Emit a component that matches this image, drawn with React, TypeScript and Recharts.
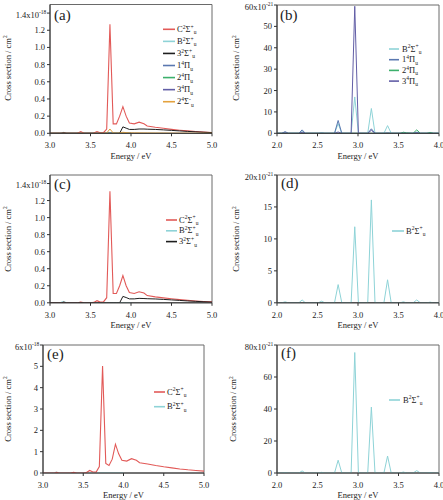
import React from 'react';
import { LineChart, Line, XAxis, YAxis, ReferenceArea } from 'recharts';

const FONT = "'Liberation Serif', 'Times New Roman', serif";
const INK = '#222';
const AXIS = '#333';
const FRAME = '#6a6a6a';

// ---------- energy grids (eV) ----------
const energyHigh = [3.0, 3.1, 3.14, 3.17, 3.2, 3.34, 3.38, 3.42, 3.5, 3.54, 3.58, 3.62, 3.66, 3.7, 3.74, 3.78, 3.82, 3.86, 3.9, 3.94, 3.98, 4.04, 4.1, 4.16, 4.2, 4.3, 4.4, 4.5, 4.6, 4.7, 4.8, 4.9, 5.0];
const energyLow = [2.0, 2.06, 2.1, 2.14, 2.27, 2.31, 2.35, 2.51, 2.55, 2.59, 2.71, 2.755, 2.8, 2.915, 2.96, 3.005, 3.12, 3.165, 3.21, 3.32, 3.365, 3.41, 3.52, 3.56, 3.6, 3.68, 3.725, 3.77, 3.85, 3.89, 3.93, 4.0];

// ---------- panel (a): x10^-18 cm^2 ----------
const cSigmaA = [0, 0, 0, 0.004, 0, 0, 0.02, 0, 0, 0.004, 0.02, 0.006, 0.008, 0.05, 1.27, 0.11, 0.11, 0.2, 0.31, 0.2, 0.12, 0.11, 0.13, 0.11, 0.085, 0.07, 0.058, 0.046, 0.036, 0.028, 0.021, 0.015, 0.01];
const s3SigmaA = [0, 0, 0, 0.005, 0, 0, 0, 0, 0, 0, 0, 0, 0, 0, 0, 0, 0, 0, 0.075, 0.06, 0.045, 0.045, 0.05, 0.05, 0.048, 0.045, 0.04, 0.034, 0.028, 0.022, 0.017, 0.012, 0.008];
const s2SigmaMinusA = [0, 0, 0, 0, 0, 0, 0, 0, 0, 0, 0, 0, 0, 0.003, 0.05, 0.004, 0.003, 0.004, 0.012, 0.008, 0.006, 0.005, 0.005, 0.004, 0.004, 0.003, 0.003, 0.002, 0.002, 0.002, 0.001, 0.001, 0.001];

// ---------- panel (b): x10^-21 cm^2 ----------
const bSigmaB = [0, 0, 0.3, 0, 0, 0.8, 0, 0, 0.2, 0, 0, 4.5, 0, 0, 17, 0, 0, 11.6, 0, 0, 3.6, 0, 0, 0.2, 0, 0, 0.6, 0, 0, 0.2, 0, 0];
const pi1B = [0, 0, 0.8, 0, 0, 1.6, 0, 0, 0.1, 0, 0, 6.0, 0, 0, 0, 0, 0, 2.1, 0, 0, 0.2, 0, 0, 0.1, 0, 0, 0.3, 0, 0, 0, 0, 0];
const pi2B = [0, 0, 0, 0, 0, 0, 0, 0, 0, 0, 0, 0, 0, 0, 0, 0, 0, 0, 0, 0, 0, 0, 0, 0.5, 0.2, 0, 1.6, 0, 0, 0.4, 0, 0];
const pi3B = [0, 0, 0.2, 0, 0, 0.5, 0, 0, 0, 0, 0, 0.6, 0, 0, 59.4, 0, 0, 1.4, 0, 0, 0, 0, 0, 0, 0, 0, 0.2, 0, 0, 0, 0, 0];

// ---------- panel (c): x10^-18 cm^2 ----------
const cSigmaC = [0, 0, 0, 0.006, 0, 0, 0.008, 0, 0, 0.005, 0.025, 0.008, 0.01, 0.06, 1.31, 0.11, 0.11, 0.2, 0.32, 0.2, 0.12, 0.11, 0.13, 0.115, 0.085, 0.07, 0.058, 0.047, 0.037, 0.029, 0.022, 0.016, 0.011];
const s3SigmaC = [0, 0, 0, 0.008, 0, 0, 0.004, 0, 0, 0, 0, 0, 0, 0, 0, 0, 0, 0, 0.075, 0.062, 0.046, 0.046, 0.052, 0.05, 0.048, 0.045, 0.04, 0.034, 0.028, 0.022, 0.017, 0.012, 0.008];

// ---------- panel (d): x10^-21 cm^2 ----------
const bSigmaD = [0, 0, 0.15, 0, 0, 0.45, 0, 0, 0.25, 0, 0, 2.85, 0, 0, 11.9, 0, 0, 16.1, 0, 0, 3.6, 0, 0, 0.15, 0, 0, 0.45, 0, 0, 0.1, 0, 0];

// ---------- panel (e): x10^-18 cm^2 ----------
const cSigmaE = [0, 0, 0, 0.03, 0, 0, 0.03, 0, 0, 0.02, 0.12, 0.05, 0.04, 0.3, 5.02, 0.45, 0.35, 0.65, 1.35, 0.9, 0.6, 0.56, 0.67, 0.6, 0.48, 0.42, 0.35, 0.29, 0.24, 0.19, 0.15, 0.12, 0.09];

// ---------- panel (f): x10^-21 cm^2 ----------
const bSigmaF = [0, 0, 0.2, 0, 0, 1.3, 0, 0, 0.4, 0, 0, 8.0, 0, 0, 75.3, 0, 0, 41.2, 0, 0, 10.6, 0, 0, 0.6, 0, 0, 1.5, 0, 0, 0.3, 0, 0];

// ---------- ticks ----------
const xTicksHigh = [3.0, 3.5, 4.0, 4.5, 5.0];
const xTicksLow = [2.0, 2.5, 3.0, 3.5, 4.0];
const yTicksA = [0, 0.2, 0.4, 0.6, 0.8, 1.0, 1.2, 1.4];
const yTicksB = [0, 10, 20, 30, 40, 50, 60];
const yTicksD = [0, 5, 10, 15, 20];
const yTicksE = [0, 1, 2, 3, 4, 5, 6];
const yTicksF = [0, 20, 40, 60, 80];

// ---------- state labels: [lead, sup, symbol, sup2, sub] ----------
const lblC = ['C', '2', 'Σ', '+', 'u'];
const lblB = ['B', '2', 'Σ', '+', 'u'];
const lbl3S = ['3', '2', 'Σ', '+', 'u'];
const lbl1P = ['1', '4', 'Π', '', 'u'];
const lbl2P = ['2', '4', 'Π', '', 'u'];
const lbl3P = ['3', '4', 'Π', '', 'u'];
const lbl2Sm = ['2', '4', 'Σ', '-', 'u'];

const COL = {
  C: '#e25a58',
  B: '#8ed3d7',
  S3: '#1e1e1e',
  P1: '#5a78b0',
  P2: '#3cb06c',
  P3: '#625ea6',
  Sm: '#e4a23e',
};

type Row = { E: number; v: number };
const rows = (E: number[], V: number[], scale = 1): Row[] => E.map((e, i) => ({ E: e, v: V[i] * scale }));

type Series = { id: string; color: string; data: Row[]; width?: number };

type PanelCfg = {
  left: number; top: number; w: number; h: number;
  pl: number; pt: number; pr: number; pb: number;
  xDomain: [number, number]; xTicks: number[];
  yDomain: [number, number]; yTicks: number[]; yDec: number;
  topBase: string; topExp: string;
  series: Series[];
};

const panels: PanelCfg[] = [
  {
    left: 0, top: 0, w: 222, h: 165, pl: 50, pt: 4.5, pr: 212, pb: 133.3,
    xDomain: [3, 5], xTicks: xTicksHigh, yDomain: [0, 1.5], yTicks: yTicksA, yDec: 1,
    topBase: '1.4x10', topExp: '-18',
    series: [
      { id: 'a-B', color: COL.B, data: rows(energyLow, bSigmaB, 1e-3) },
      { id: 'a-P1', color: COL.P1, data: rows(energyLow, pi1B, 1e-3) },
      { id: 'a-P2', color: COL.P2, data: rows(energyLow, pi2B, 1e-3) },
      { id: 'a-P3', color: COL.P3, data: rows(energyLow, pi3B, 1e-3) },
      { id: 'a-C', color: COL.C, data: rows(energyHigh, cSigmaA), width: 1.1 },
      { id: 'a-S3', color: COL.S3, data: rows(energyHigh, s3SigmaA) },
      { id: 'a-Sm', color: COL.Sm, data: rows(energyHigh, s2SigmaMinusA) },
    ],
  },
  {
    left: 222, top: 0, w: 221, h: 165, pl: 277, pt: 5, pr: 439, pb: 133.3,
    xDomain: [2, 4], xTicks: xTicksLow, yDomain: [0, 60], yTicks: yTicksB, yDec: 0,
    topBase: '60x10', topExp: '-21',
    series: [
      { id: 'b-B', color: COL.B, data: rows(energyLow, bSigmaB) },
      { id: 'b-P1', color: COL.P1, data: rows(energyLow, pi1B) },
      { id: 'b-P2', color: COL.P2, data: rows(energyLow, pi2B) },
      { id: 'b-P3', color: COL.P3, data: rows(energyLow, pi3B) },
    ],
  },
  {
    left: 0, top: 165, w: 222, h: 165, pl: 50, pt: 175, pr: 212, pb: 302.8,
    xDomain: [3, 5], xTicks: xTicksHigh, yDomain: [0, 1.5], yTicks: yTicksA, yDec: 1,
    topBase: '1.4x10', topExp: '-18',
    series: [
      { id: 'c-B', color: COL.B, data: rows(energyLow, bSigmaD, 1e-3) },
      { id: 'c-C', color: COL.C, data: rows(energyHigh, cSigmaC), width: 1.1 },
      { id: 'c-S3', color: COL.S3, data: rows(energyHigh, s3SigmaC) },
    ],
  },
  {
    left: 222, top: 165, w: 221, h: 165, pl: 277, pt: 175, pr: 439, pb: 302.8,
    xDomain: [2, 4], xTicks: xTicksLow, yDomain: [0, 20], yTicks: yTicksD, yDec: 0,
    topBase: '20x10', topExp: '-21',
    series: [{ id: 'd-B', color: COL.B, data: rows(energyLow, bSigmaD) }],
  },
  {
    left: 0, top: 330, w: 222, h: 170, pl: 43, pt: 345, pr: 204, pb: 473,
    xDomain: [3, 5], xTicks: xTicksHigh, yDomain: [0, 6], yTicks: yTicksE, yDec: 0,
    topBase: '6x10', topExp: '-18',
    series: [
      { id: 'e-B', color: COL.B, data: rows(energyLow, bSigmaF, 1e-3) },
      { id: 'e-C', color: COL.C, data: rows(energyHigh, cSigmaE), width: 1.1 },
    ],
  },
  {
    left: 222, top: 330, w: 221, h: 170, pl: 277, pt: 345, pr: 439, pb: 473,
    xDomain: [2, 4], xTicks: xTicksLow, yDomain: [0, 80], yTicks: yTicksF, yDec: 0,
    topBase: '80x10', topExp: '-21',
    series: [{ id: 'f-B', color: COL.B, data: rows(energyLow, bSigmaF) }],
  },
];

// overlay text layout (absolute page coords)
const overlays = [
  { letter: '(a)', lx: 54, ly: 20, yt: { x: 10.5, y: 68 }, xt: { x: 131, y: 158.5 },
    legend: { x1: 163, x2: 175, tx: 177, y0: 29.3, dy: 12.07, items: [[lblC, COL.C], [lblB, COL.B], [lbl3S, COL.S3], [lbl1P, COL.P1], [lbl2P, COL.P2], [lbl3P, COL.P3], [lbl2Sm, COL.Sm]] } },
  { letter: '(b)', lx: 280, ly: 20, yt: { x: 239, y: 68 }, xt: { x: 358, y: 158.5 },
    legend: { x1: 389, x2: 399, tx: 402, y0: 49, dy: 10.7, items: [[lblB, COL.B], [lbl1P, COL.P1], [lbl2P, COL.P2], [lbl3P, COL.P3]] } },
  { letter: '(c)', lx: 54, ly: 189, yt: { x: 10.5, y: 239 }, xt: { x: 131, y: 327.5 },
    legend: { x1: 166, x2: 177, tx: 179, y0: 220, dy: 10.8, items: [[lblC, COL.C], [lblB, COL.B], [lbl3S, COL.S3]] } },
  { letter: '(d)', lx: 281, ly: 187.5, yt: { x: 239, y: 239 }, xt: { x: 358, y: 327.5 },
    legend: { x1: 392, x2: 404, tx: 406, y0: 231, dy: 11, items: [[lblB, COL.B]] } },
  { letter: '(e)', lx: 47, ly: 359, yt: { x: 10.5, y: 409 }, xt: { x: 123.5, y: 497.5 },
    legend: { x1: 154, x2: 165, tx: 167, y0: 392, dy: 14.7, items: [[lblC, COL.C], [lblB, COL.B]] } },
  { letter: '(f)', lx: 281, ly: 357.5, yt: { x: 236, y: 409 }, xt: { x: 358, y: 497.5 },
    legend: { x1: 389, x2: 400, tx: 403, y0: 400, dy: 11, items: [[lblB, COL.B]] } },
];

function StateLabel({ x, y, parts }: { x: number; y: number; parts: string[] }) {
  const [a, s1, b, s2, sub] = parts;
  return (
    <text x={x} y={y} fontSize={8.5} fontFamily={FONT} fill={INK}>
      {a}
      <tspan dy={-3.4} fontSize={5.5}>{s1}</tspan>
      <tspan dy={3.4} fontSize={8.5}>{b}</tspan>
      {s2 ? <tspan dy={-3.4} fontSize={5.5}>{s2}</tspan> : null}
      <tspan dy={s2 ? 5.8 : 2.4} dx={s2 ? 0.3 : 0.2} fontSize={5.5}>{sub}</tspan>
    </text>
  );
}

function Panel({ p }: { p: PanelCfg }) {
  const mTop = p.pt - p.top;
  const mRight = p.left + p.w - p.pr;
  const yW = p.pl - p.left;
  const xH = p.top + p.h - p.pb;
  const topTick = p.yTicks[p.yTicks.length - 1];
  const xTick = (props: any) => {
    const { x, payload } = props;
    return (
      <text x={x} y={p.pb - p.top + 15} textAnchor="middle" fontSize={8.5} fontFamily={FONT} fill={INK}>
        {Number(payload.value).toFixed(1)}
      </text>
    );
  };
  const yTick = (props: any) => {
    const { y, payload } = props;
    const v = Number(payload.value);
    const x = yW - 5;
    if (Math.abs(v - topTick) < 1e-9) {
      return (
        <g>
          <text x={x - 6} y={y + 4.6} textAnchor="end" fontSize={8.5} fontFamily={FONT} fill={INK}>{p.topBase}</text>
          <text x={x - 6} y={y + 0.8} textAnchor="start" fontSize={5.5} fontFamily={FONT} fill={INK}>{p.topExp}</text>
        </g>
      );
    }
    return (
      <text x={x} y={y + 3} textAnchor="end" fontSize={8.5} fontFamily={FONT} fill={INK}>
        {v.toFixed(p.yDec)}
      </text>
    );
  };
  return (
    <div style={{ position: 'absolute', left: p.left, top: p.top, width: p.w, height: p.h }}>
      <LineChart width={p.w} height={p.h} margin={{ top: mTop, right: mRight, bottom: 0, left: 0 }}>
        <XAxis
          type="number"
          dataKey="E"
          domain={p.xDomain}
          ticks={p.xTicks}
          allowDataOverflow
          height={xH}
          tickSize={3}
          stroke={AXIS}
          tickLine={{ stroke: AXIS }}
          tick={xTick}
          interval={0}
        />
        <YAxis
          type="number"
          domain={p.yDomain}
          ticks={p.yTicks}
          allowDataOverflow
          width={yW}
          tickSize={3}
          stroke={AXIS}
          tickLine={{ stroke: AXIS }}
          tick={yTick}
          interval={0}
        />
        <ReferenceArea
          x1={p.xDomain[0]}
          x2={p.xDomain[1]}
          y1={p.yDomain[0]}
          y2={p.yDomain[1]}
          fill="none"
          fillOpacity={0}
          stroke={FRAME}
          strokeWidth={1}
          ifOverflow="visible"
        />
        {p.series.map((s) => (
          <Line
            key={s.id}
            data={s.data}
            dataKey="v"
            type="linear"
            stroke={s.color}
            strokeWidth={s.width ?? 1}
            dot={false}
            activeDot={false}
            isAnimationActive={false}
          />
        ))}
      </LineChart>
    </div>
  );
}

export default function App() {
  return (
    <div style={{ position: 'absolute', left: 0, top: 0, width: 443, height: 500, background: '#fff', overflow: 'hidden', fontFamily: FONT }}>
      {panels.map((p, i) => (
        <Panel key={i} p={p} />
      ))}
      <svg width={443} height={500} style={{ position: 'absolute', left: 0, top: 0, pointerEvents: 'none' }}>
        {overlays.map((o, i) => (
          <g key={i}>
            <text x={o.lx} y={o.ly} fontSize={15} fontFamily={FONT} fill={INK}>{o.letter}</text>
            <text
              transform={`translate(${o.yt.x},${o.yt.y}) rotate(-90)`}
              textAnchor="middle"
              fontSize={8.5}
              fontFamily={FONT}
              fill={INK}
            >
              Cross section / cm<tspan dy={-3.5} fontSize={5.5}>2</tspan>
            </text>
            <text x={o.xt.x} y={o.xt.y} textAnchor="middle" fontSize={8.5} fontFamily={FONT} fill={INK}>
              Energy / eV
            </text>
            {o.legend.items.map(([parts, color], j) => {
              const cy = o.legend.y0 + j * o.legend.dy;
              return (
                <g key={j}>
                  <line x1={o.legend.x1} x2={o.legend.x2} y1={cy} y2={cy} stroke={color as string} strokeWidth={1.6} />
                  <StateLabel x={o.legend.tx} y={cy + 2.6} parts={parts as string[]} />
                </g>
              );
            })}
          </g>
        ))}
      </svg>
    </div>
  );
}
